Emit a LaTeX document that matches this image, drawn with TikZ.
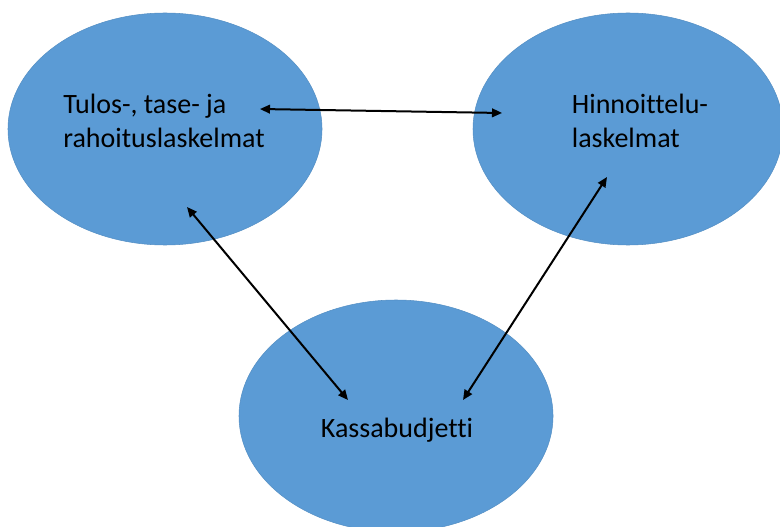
\documentclass[tikz,border=0pt]{standalone}
\usepackage{fontspec}
\setmainfont[Ligatures=NoCommon]{Carlito}
\usepackage{tikz}
\usetikzlibrary{arrows.meta, positioning, shapes.geometric}
\usepackage{xcolor}
\definecolor{ovalblue}{RGB}{91,155,213}

\begin{document}
\begin{tikzpicture}[x=0.75pt, y=-0.75pt,
  oval/.style={ellipse, fill=ovalblue, draw=ovalblue!92!black, line width=0.4pt, inner sep=0pt,
    minimum width=314*0.75pt, minimum height=232*0.75pt},
  lbl/.style={align=left, inner sep=0pt, font=\fontsize{21}{26}\selectfont},
  link/.style={{Triangle[length=7.5pt, width=6.5pt]}-{Triangle[length=7.5pt, width=6.5pt]}, line width=1.5pt}]
  \useasboundingbox (0,0) rectangle (780,527);
  % ovals
  \node[oval] (tulos) at (165,129) {};
  \node[oval, minimum width=310*0.75pt] (hinta) at (628,129) {};
  \node[oval] (kassa) at (396,416) {};
  % labels
  \node[lbl] (tulostxt) at (164,121) {Tulos-, tase- ja\\rahoituslaskelmat};
  \node[lbl] (hintatxt) at (640,121) {Hinnoittelu-\\laskelmat};
  \node[lbl] (kassatxt) at (397,430) {Kassabudjetti};
  % arrow ends
  \coordinate (t1) at (260,109);
  \coordinate (h1) at (502,113);
  \coordinate (t2) at (187,207);
  \coordinate (k1) at (348,400);
  \coordinate (h2) at (607,177);
  \coordinate (k2) at (463,400);
  % links
  \draw[link] (t1) -- (h1);
  \draw[link] (t2) -- (k1);
  \draw[link] (h2) -- (k2);
\end{tikzpicture}
\end{document}
